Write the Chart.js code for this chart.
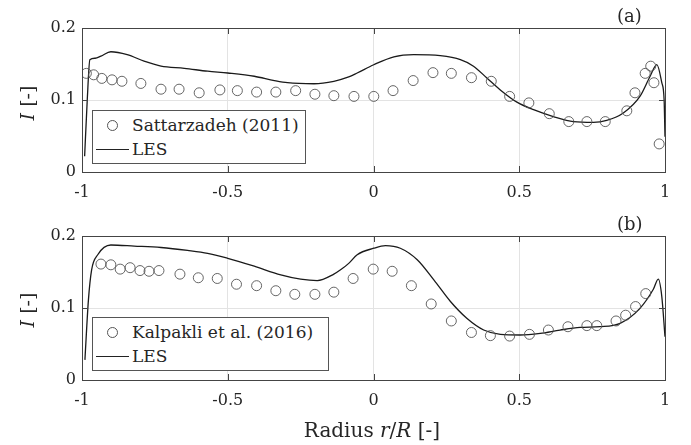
<!DOCTYPE html>
<html lang="en">
<head>
  <meta charset="UTF-8">
  <title>Turbulence intensity profiles</title>
  <script src="https://cdn.jsdelivr.net/npm/chart.js"></script>
  <style>
    body {
      margin: 0;
      background: #fff;
      font-family: "DejaVu Serif", serif;
      color: #262626;
    }
    #wrap {
      position: relative;
      width: 691px;
      height: 445px;
      overflow: hidden;
    }
    canvas { position: absolute; left: 0; }
    #topChart { top: 0; }
    #botChart { top: 200px; }
    .legend {
      position: absolute;
      left: 92px;
      height: 52px;
      border: 1px solid #555;
      background: #fff;
      font-size: 17px;
    }
    .legend .row { position: absolute; left: 0; height: 24px; line-height: 24px; }
    .legend .txt { position: absolute; left: 39px; white-space: nowrap; }
    .legend .circ {
      position: absolute; left: 14px; top: 7px;
      width: 9px; height: 9px; border: 1px solid #555; border-radius: 50%;
    }
    .legend .ln {
      position: absolute; left: 3px; top: 12px; width: 33px; border-top: 1.3px solid #222;
    }
    .ylab {
      position: absolute;
      font-size: 19px;
      transform: translate(-50%, -50%) rotate(-90deg);
      white-space: nowrap;
    }
    .tag { position: absolute; font-size: 18px; }
    #xlab {
      position: absolute; left: 372px; top: 430px;
      transform: translate(-50%, -50%);
      font-size: 20px; white-space: nowrap;
    }
  </style>
</head>
<body>
<div id="wrap">
  <canvas id="topChart" width="691" height="200"></canvas>
  <canvas id="botChart" width="691" height="245"></canvas>

  <div class="legend" style="top:110px; width:212px;">
    <div class="row" style="top:2px;"><span class="circ"></span><span class="txt">Sattarzadeh (2011)</span></div>
    <div class="row" style="top:26px;"><span class="ln"></span><span class="txt">LES</span></div>
  </div>
  <div class="legend" style="top:317px; width:235px;">
    <div class="row" style="top:2px;"><span class="circ"></span><span class="txt">Kalpakli et al. (2016)</span></div>
    <div class="row" style="top:26px;"><span class="ln"></span><span class="txt">LES</span></div>
  </div>

  <div class="ylab" style="left:27px; top:103px;"><i>I</i> [-]</div>
  <div class="ylab" style="left:27px; top:310px;"><i>I</i> [-]</div>
  <div class="tag" style="left:617px; top:5px;">(a)</div>
  <div class="tag" style="left:617px; top:213px;">(b)</div>
  <div id="xlab">Radius <i>r</i>/<i>R</i> [-]</div>
</div>

<script>
  // axis ticks
  const xTickVals = [-1, -0.5, 0, 0.5, 1];
  const xTickLabels = ['-1', '-0.5', '0', '0.5', '1'];
  const yTickVals = [0, 0.1, 0.2];
  const yTickLabels = ['0', '0.1', '0.2'];

  // (a) Sattarzadeh (2011) measurements
  const expAX = [-0.985, -0.96, -0.932, -0.897, -0.863, -0.798, -0.729, -0.667, -0.598, -0.527,
    -0.467, -0.401, -0.335, -0.267, -0.201, -0.136, -0.067, 0.001, 0.067, 0.136,
    0.204, 0.267, 0.336, 0.404, 0.467, 0.533, 0.603, 0.670, 0.732, 0.795,
    0.869, 0.897, 0.932, 0.951, 0.962, 0.980];
  const expAY = [0.137, 0.135, 0.130, 0.128, 0.126, 0.123, 0.115, 0.115, 0.110, 0.114,
    0.113, 0.111, 0.111, 0.113, 0.108, 0.106, 0.105, 0.105, 0.113, 0.127,
    0.138, 0.137, 0.131, 0.126, 0.105, 0.096, 0.081, 0.070, 0.070, 0.070,
    0.085, 0.110, 0.137, 0.147, 0.124, 0.039];

  // (a) LES
  const lesAX = [-0.991, -0.982, -0.973, -0.955, -0.935, -0.901, -0.845, -0.787, -0.729, -0.649,
    -0.569, -0.5, -0.409, -0.34, -0.295, -0.204, -0.136, -0.085, -0.056, 0.001,
    0.07, 0.138, 0.229, 0.298, 0.343, 0.389, 0.435, 0.492, 0.549, 0.617,
    0.686, 0.754, 0.80, 0.857, 0.914, 0.949, 0.972, 0.989, 0.997, 1.0];
  const lesAY = [0.022, 0.10, 0.156, 0.158, 0.161, 0.167, 0.163, 0.154, 0.147, 0.144,
    0.140, 0.1375, 0.133, 0.127, 0.124, 0.1226, 0.126, 0.132, 0.1375, 0.149,
    0.160, 0.163, 0.1615, 0.156, 0.147, 0.1305, 0.114, 0.097, 0.0865, 0.077,
    0.070, 0.069, 0.0717, 0.082, 0.105, 0.133, 0.149, 0.124, 0.100, 0.049];

  // (b) Kalpakli et al. (2016) measurements
  const expBX = [-0.935, -0.901, -0.869, -0.835, -0.801, -0.770, -0.736, -0.664, -0.601, -0.536,
    -0.470, -0.401, -0.335, -0.270, -0.201, -0.136, -0.070, -0.001, 0.064, 0.130,
    0.198, 0.267, 0.336, 0.401, 0.467, 0.535, 0.600, 0.667, 0.732, 0.766,
    0.832, 0.865, 0.899, 0.934];
  const expBY = [0.161, 0.160, 0.154, 0.156, 0.152, 0.151, 0.152, 0.147, 0.142, 0.141,
    0.133, 0.131, 0.124, 0.119, 0.119, 0.122, 0.141, 0.154, 0.151, 0.131,
    0.1056, 0.082, 0.066, 0.0616, 0.061, 0.0634, 0.0694, 0.074, 0.0755, 0.0755,
    0.082, 0.090, 0.102, 0.120];

  // (b) LES
  const lesBX = [-0.99, -0.978, -0.967, -0.946, -0.901, -0.821, -0.729, -0.638, -0.569, -0.5,
    -0.409, -0.318, -0.25, -0.193, -0.136, -0.113, -0.085, -0.056, 0.001, 0.041,
    0.092, 0.15, 0.207, 0.264, 0.32, 0.378, 0.435, 0.503, 0.572, 0.64,
    0.709, 0.777, 0.846, 0.914, 0.96, 0.977, 0.989, 1.0];
  const lesBY = [0.028, 0.111, 0.153, 0.174, 0.1875, 0.186, 0.184, 0.180, 0.176, 0.169,
    0.158, 0.146, 0.140, 0.138, 0.147, 0.153, 0.162, 0.174, 0.183, 0.1866,
    0.183, 0.167, 0.139, 0.109, 0.0857, 0.0694, 0.0634, 0.0625, 0.0648, 0.0694,
    0.073, 0.074, 0.0787, 0.0995, 0.126, 0.140, 0.116, 0.060];

  const pts = (xs, ys) => xs.map((x, i) => ({ x: x, y: ys[i] }));

  // frame box and inward tick marks, MATLAB style
  const framePlugin = {
    id: 'frame',
    afterDraw(chart) {
      const { ctx, chartArea: a, scales } = chart;
      ctx.save();
      ctx.strokeStyle = '#444';
      ctx.lineWidth = 1;
      ctx.strokeRect(a.left + 0.5, a.top + 0.5, a.right - a.left, a.bottom - a.top);
      ctx.beginPath();
      xTickVals.forEach(v => {
        const px = Math.round(scales.x.getPixelForValue(v)) + 0.5;
        ctx.moveTo(px, a.bottom); ctx.lineTo(px, a.bottom - 6);
        ctx.moveTo(px, a.top); ctx.lineTo(px, a.top + 6);
      });
      yTickVals.forEach(v => {
        const py = Math.round(scales.y.getPixelForValue(v)) + 0.5;
        ctx.moveTo(a.left, py); ctx.lineTo(a.left + 6, py);
        ctx.moveTo(a.right, py); ctx.lineTo(a.right - 6, py);
      });
      ctx.stroke();
      ctx.restore();
    }
  };

  function makeChart(id, expX, expY, lesX, lesY, padTop, xHeight) {
    const ctx = document.getElementById(id).getContext('2d');
    return new Chart(ctx, {
      type: 'scatter',
      data: {
        datasets: [
          {
            label: 'LES',
            data: pts(lesX, lesY),
            showLine: true,
            borderColor: '#1a1a1a',
            borderWidth: 1.3,
            pointRadius: 0,
            cubicInterpolationMode: 'monotone',
            order: 1
          },
          {
            label: 'exp',
            data: pts(expX, expY),
            pointStyle: 'circle',
            pointRadius: 5,
            borderColor: '#555',
            borderWidth: 0.9,
            backgroundColor: 'rgba(0,0,0,0)',
            order: 0
          }
        ]
      },
      options: {
        responsive: false,
        animation: false,
        layout: { padding: { top: padTop, right: 26, left: 0, bottom: 0 } },
        plugins: { legend: { display: false }, tooltip: { enabled: false } },
        scales: {
          x: {
            type: 'linear',
            min: -1,
            max: 1,
            afterBuildTicks: s => { s.ticks = xTickVals.map(v => ({ value: v })); },
            afterFit: s => { s.height = xHeight; },
            ticks: {
              padding: 11,
              color: '#262626',
              font: { family: 'DejaVu Serif', size: 16 },
              callback: v => xTickLabels[xTickVals.indexOf(v)]
            },
            grid: { color: '#e3e3e3', drawTicks: false },
            border: { display: false }
          },
          y: {
            type: 'linear',
            min: 0,
            max: 0.2,
            afterBuildTicks: s => { s.ticks = yTickVals.map(v => ({ value: v })); },
            afterFit: s => { s.width = 82; },
            ticks: {
              padding: 6,
              color: '#262626',
              font: { family: 'DejaVu Serif', size: 16 },
              callback: v => yTickLabels[yTickVals.indexOf(v)]
            },
            grid: { color: '#e3e3e3', drawTicks: false },
            border: { display: false }
          }
        }
      },
      plugins: [framePlugin]
    });
  }

  makeChart('topChart', expAX, expAY, lesAX, lesAY, 28, 28);
  makeChart('botChart', expBX, expBY, lesBX, lesBY, 36, 65);
</script>
</body>
</html>
